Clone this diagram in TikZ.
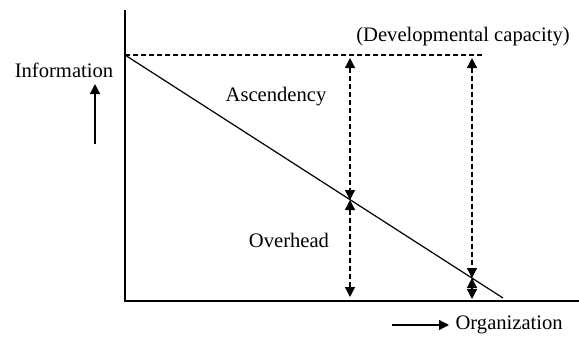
\documentclass[tikz,border=0pt]{standalone}
\usepackage{fontspec}
\setmainfont{Liberation Serif}
\usetikzlibrary{arrows.meta}

\tikzset{
  lbl/.style={font=\fontsize{10.3}{12}\selectfont, inner sep=0pt},
  dimline/.style={dash pattern=on 2.5pt off 1.5pt, line width=0.6pt,
    {Triangle[width=5pt,length=5pt]}-{Triangle[width=5pt,length=5pt]}},
  axisarrow/.style={line width=0.6pt, -{Triangle[width=5pt,length=5pt]}}
}

\begin{document}
\begin{tikzpicture}[x=0.5pt,y=-0.5pt,line width=0.6pt]
		\useasboundingbox (0,0) rectangle (579,338);
		% axes
		\coordinate (top) at (125,10);
		\coordinate (orig) at (125,301);
		\coordinate (right) at (579,301);
		\draw (top)--(orig)--(right);
		% capacity level and the line
		\coordinate (cap) at (125,55);
		\coordinate (capend) at (485,55);
		\coordinate (lineend) at (503,298);
		\draw[dash pattern=on 2.5pt off 1.5pt] (cap)--(capend);
		\draw (cap)--(lineend);
		% arrows
		\coordinate (a1) at (350,58);
		\coordinate (m1) at (350,200);
		\coordinate (b1) at (350,297);
		\coordinate (a2) at (472,58);
		\coordinate (m2) at (472,278);
		\coordinate (b2) at (472,299);
		\draw[dimline] (a1)--(m1);
		\draw[dimline] (m1)--(b1);
		\draw[dimline] (a2)--(m2);
		\draw[dimline] (m2)--(b2);
		% labels
		\node[lbl] (dev) at (463,37) {(Developmental capacity)};
		\node[lbl] (asc) at (276,97) {Ascendency};
		\node[lbl] (ovh) at (289,240) {Overhead};
		\node[lbl] (inf) at (64,70) {Information};
		\node[lbl, anchor=west] (org) at (455,325) {Organization};
		\coordinate (i0) at (95,144);
		\coordinate (i1) at (95,84);
		\draw[axisarrow] (i0)--(i1);
		\coordinate (o0) at (392,325);
		\coordinate (o1) at (449,325);
		\draw[axisarrow] (o0)--(o1);
\end{tikzpicture}
\end{document}
